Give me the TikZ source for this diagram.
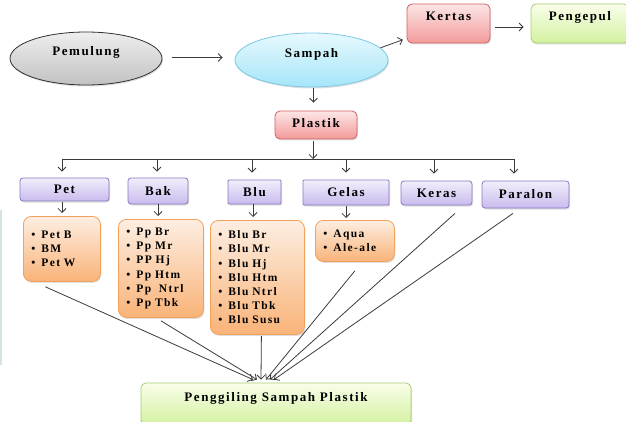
\documentclass[tikz,border=0pt]{standalone}
\usepackage{fontspec}
\setmainfont{Liberation Serif}
\newfontfamily\lblfont[LetterSpace=12]{Liberation Serif}
\newfontfamily\lstfont[LetterSpace=12]{Liberation Serif}
\usetikzlibrary{arrows.meta,shadows,shapes.geometric}
\definecolor{greyT}{HTML}{EEEEEE}\definecolor{greyB}{HTML}{C2C2C2}\definecolor{greyD}{HTML}{303030}
\definecolor{cyanT}{HTML}{E6F9FE}\definecolor{cyanB}{HTML}{A6E5F9}\definecolor{cyanD}{HTML}{7CC8E4}
\definecolor{pinkT}{HTML}{FDE6E6}\definecolor{pinkB}{HTML}{F29A9A}\definecolor{pinkD}{HTML}{D06262}
\definecolor{grnT}{HTML}{F9FEEA}\definecolor{grnB}{HTML}{D3F1A0}\definecolor{grnD}{HTML}{A8CC72}
\definecolor{lavT}{HTML}{F2EEFB}\definecolor{lavB}{HTML}{C9BBEE}\definecolor{lavD}{HTML}{8A78C0}
\definecolor{pchT}{HTML}{FDEEE2}\definecolor{pchB}{HTML}{F9B378}\definecolor{pchD}{HTML}{F1A25A}
\definecolor{stripC}{HTML}{D6E4DE}
\definecolor{lineC}{HTML}{3A3A3A}
\tikzset{
  base/.style={draw, line width=0.8pt, inner sep=0pt, text height=8.5pt,
    font=\lblfont\bfseries\fontsize{13}{15}\selectfont, text=black,
    drop shadow={shadow xshift=1pt, shadow yshift=-1.5pt, opacity=0.25}},
  greybox/.style={base, ellipse, draw=greyD, top color=greyT, bottom color=greyB},
  cyanbox/.style={base, ellipse, draw=cyanD, top color=cyanT, bottom color=cyanB},
  pinkbox/.style={base, rounded corners=5pt, draw=pinkD, top color=pinkT, bottom color=pinkB},
  grnbox/.style={base, rounded corners=5pt, draw=grnD, top color=grnT, bottom color=grnB},
  catbox/.style={base, rounded corners=3pt, draw=lavD, top color=lavT, bottom color=lavB},
  listbox/.style={draw=pchD, line width=0.8pt, rounded corners=8pt, top color=pchT, bottom color=pchB,
    anchor=north west, inner xsep=8pt, inner ysep=0pt, align=left,
    font=\lstfont\bfseries\fontsize{11.5}{14.2}\selectfont,
    drop shadow={shadow xshift=1pt, shadow yshift=-1.5pt, opacity=0.25}},
  arr/.style={draw=lineC, line width=0.8pt, -{Straight Barb[length=4pt,width=8pt]}},
}
\newcommand{\bul}{\textbullet\hspace{6pt}}
\begin{document}
\begin{tikzpicture}[x=1pt,y=-1pt]
\useasboundingbox (0,0) rectangle (626,422);
\clip (0,0) rectangle (626,422);
\fill[stripC] (0,210) rectangle (2,365);

\node[greybox, minimum width=152pt, minimum height=53pt, text depth=14pt] (pem) at (86,58.5) {Pemulung};
\node[cyanbox, minimum width=153pt, minimum height=54pt, text depth=14pt] (samp) at (311.5,60) {Sampah};
\node[pinkbox, minimum width=83pt, minimum height=39pt, text depth=15pt] (kert) at (448.5,23.5) {Kertas};
\node[grnbox, minimum width=98pt, minimum height=39pt, text depth=15pt] (peng) at (580,23.5) {Pengepul};
\node[pinkbox, minimum width=82pt, minimum height=28pt, text depth=4pt] (plast) at (316,125) {Plastik};

\node[catbox, minimum width=89pt, minimum height=23pt] (pet) at (64.5,189.5) {Pet};
\node[catbox, minimum width=60pt, minimum height=26pt] (bak) at (158,191) {Bak};
\node[catbox, rounded corners=1pt, minimum width=53pt, minimum height=24pt] (blu) at (254.5,192) {Blu};
\node[catbox, rounded corners=1pt, minimum width=86pt, minimum height=25pt] (gelas) at (346,192.5) {Gelas};
\node[catbox, minimum width=71pt, minimum height=24pt] (keras) at (436.5,193) {Keras};
\node[catbox, minimum width=87pt, minimum height=27pt] (paralon) at (525.5,194.5) {Paralon};

\node[listbox, minimum width=77pt, minimum height=65pt, text width=61pt] (petl) at (23,216)
  {\bul Pet B\\\bul BM\\\bul Pet W};
\node[listbox, minimum width=85pt, minimum height=98pt, text width=69pt] (bakl) at (118,219)
  {\bul Pp Br\\\bul Pp Mr\\\bul PP Hj\\\bul Pp Htm\\\bul Pp\ \ Ntrl\\\bul Pp Tbk};
\node[listbox, minimum width=94pt, minimum height=114pt, text width=78pt, inner xsep=8pt] (blul) at (210,220)
  {\bul Blu Br\\\bul Blu Mr\\\bul Blu Hj\\\bul Blu Htm\\\bul Blu Ntrl\\\bul Blu Tbk\\\bul Blu Susu};
\node[listbox, minimum width=79pt, minimum height=41pt, text width=63pt] (gelasl) at (315,220)
  {\bul Aqua\\\bul Ale-ale};

\node[grnbox, minimum width=270pt, minimum height=42pt, text depth=14pt] (ggl) at (276,404) {Penggiling Sampah Plastik};

% top arrows
\draw[arr, shorten <=10pt, shorten >=12pt] ([yshift=1pt]pem.east) -- ([yshift=1pt]pem.east -| samp.west);
\draw[arr, shorten >=4pt] (samp.10) -- ([yshift=5pt]kert.south west);
\draw[arr, shorten <=5pt, shorten >=7pt] ([yshift=-3.5pt]kert.east) -- ([yshift=-3.5pt]kert.east -| peng.west);
\draw[arr, shorten <=1pt, shorten >=8pt] ([xshift=2pt]samp.south) -- ([xshift=2pt]samp.south |- plast.north);

% bus
\coordinate (bus) at (313,159);
\draw[arr, shorten <=2pt] ([xshift=-3pt]plast.south) -- (bus);
\draw[draw=lineC, line width=0.8pt] ([xshift=-2.5pt]pet.north |- bus) -- ([xshift=-11.5pt]paralon.north |- bus);
\draw[arr, shorten >=6pt] ([xshift=-2.5pt]pet.north |- bus) -- ([xshift=-2.5pt]pet.north);
\draw[arr, shorten >=6pt] ([xshift=-1pt]bak.north |- bus) -- ([xshift=-1pt]bak.north);
\draw[arr, shorten >=7pt] ([xshift=-2.5pt]blu.north |- bus) -- ([xshift=-2.5pt]blu.north);
\draw[arr, shorten >=7pt] (gelas.north |- bus) -- (gelas.north);
\draw[arr, shorten >=7pt] ([xshift=-2.5pt]keras.north |- bus) -- ([xshift=-2.5pt]keras.north);
\draw[arr, shorten >=7pt] ([xshift=-11.5pt]paralon.north |- bus) -- ([xshift=-11.5pt]paralon.north);

% category to list
\draw[arr, shorten <=1pt, shorten >=3pt] ([xshift=-2.5pt]pet.south) -- ([xshift=-2.5pt]pet.south |- petl.north);
\draw[arr, shorten <=0pt, shorten >=3pt] (bak.south) -- (bak.south |- bakl.north);
\draw[arr, shorten <=0pt, shorten >=3pt] ([xshift=-1.5pt]blu.south) -- ([xshift=-1.5pt]blu.south |- blul.north);
\draw[arr, shorten <=1pt, shorten >=2pt] (gelas.south) -- (gelas.south |- gelasl.north);

% to penggiling
\draw[arr] ([xshift=-16.5pt,yshift=-5pt]petl.south) -- ([xshift=-23pt,yshift=3pt]ggl.north);
\draw[arr] ([yshift=-3pt]bakl.south) -- ([xshift=-19pt,yshift=3pt]ggl.north);
\draw[arr] ([xshift=4pt,yshift=-1pt]blul.south) -- ([xshift=-15pt,yshift=3pt]ggl.north);
\draw[arr] ([yshift=-9pt]gelasl.south) -- ([xshift=-10pt,yshift=3pt]ggl.north);
\draw[arr] ([xshift=18.5pt,yshift=-8pt]keras.south) -- ([xshift=-6pt,yshift=3pt]ggl.north);
\draw[arr] ([xshift=-12.5pt,yshift=-5pt]paralon.south) -- ([xshift=-2pt,yshift=3pt]ggl.north);
\end{tikzpicture}
\end{document}
